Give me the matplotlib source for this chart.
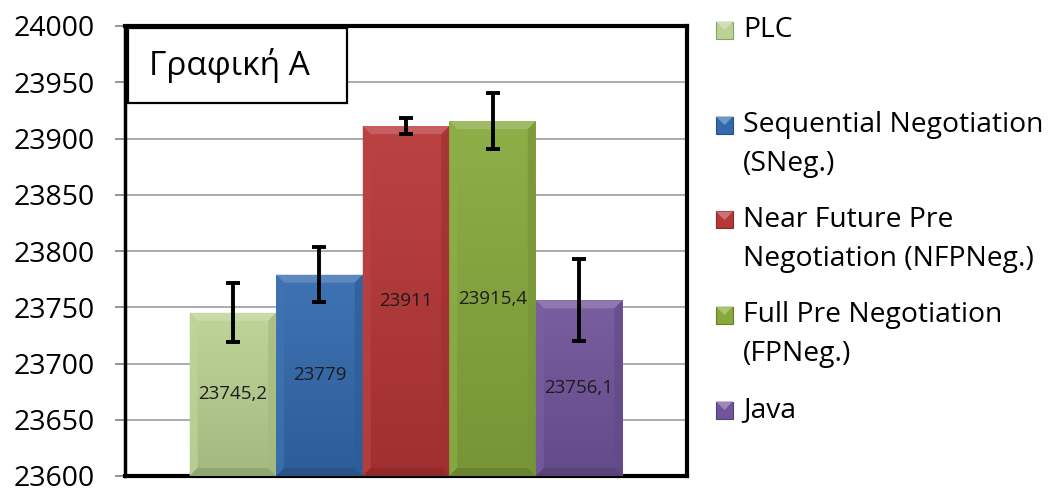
import numpy as np
import matplotlib
matplotlib.use("Agg")
import matplotlib.pyplot as plt
from matplotlib.patches import Rectangle, Polygon
from matplotlib.colors import to_rgb

# ---- data -------------------------------------------------------------
series = [
    "PLC",
    "Sequential Negotiation\n(SNeg.)",
    "Near Future Pre\nNegotiation (NFPNeg.)",
    "Full Pre Negotiation\n(FPNeg.)",
    "Java",
]
values = [23745.2, 23779.0, 23911.0, 23915.4, 23756.1]
errors = [26.0, 24.5, 7.0, 25.0, 36.5]
value_labels = ["23745,2", "23779", "23911", "23915,4", "23756,1"]
colors = ["#bad292", "#336aae", "#b73636", "#86a93c", "#71549a"]
y_ticks = [23600, 23650, 23700, 23750, 23800, 23850, 23900, 23950, 24000]
title_text = "Γραφική Α"

plt.rcParams["font.family"] = ["Open Sans", "DejaVu Sans"]

W, H = 1054, 492
fig = plt.figure(figsize=(W / 100, H / 100), dpi=100)
ax = fig.add_axes([125 / W, 16 / H, 562 / W, 450 / H])

base = y_ticks[0]
ax.set_ylim(y_ticks[0], y_ticks[-1])
ax.set_xlim(-0.5, 0.5)

n = len(values)
bar_w = 0.154
xs = [(i - (n - 1) / 2) * bar_w for i in range(n)]


def shade(c, f):
    r = np.array(to_rgb(c))
    if f >= 0:
        return tuple(r + (1 - r) * f)
    return tuple(r * (1 + f))


bars = ax.bar(xs, [v - base for v in values], width=bar_w, bottom=base,
              color=colors, edgecolor="none", zorder=3)

# bevelled look: vertical gradient plus lighter top / darker bottom facets
dx = 8 / 562
dy = 8 * 50 / 56
for rect, c in zip(bars, colors):
    x0, w = rect.get_x(), rect.get_width()
    y0, h = rect.get_y(), rect.get_height()
    x1, y1 = x0 + w, y0 + h
    top = np.array(shade(c, 0.06))
    bot = np.array(shade(c, -0.12))
    t = np.linspace(0, 1, 64)[:, None]
    grad = top * (1 - t) + bot * t
    img = np.repeat(grad[:, None, :], 8, axis=1)
    im = ax.imshow(img, extent=(x0, x1, y0, y1), aspect="auto",
                   origin="upper", zorder=3.1, interpolation="bilinear")
    im.set_clip_path(rect)
    facets = [
        ([(x0, y1), (x1, y1), (x1 - dx, y1 - dy), (x0 + dx, y1 - dy)], shade(c, 0.28)),
        ([(x0, y1), (x0 + dx, y1 - dy), (x0 + dx, y0 + dy), (x0, y0)], shade(c, 0.06)),
        ([(x1, y1), (x1 - dx, y1 - dy), (x1 - dx, y0 + dy), (x1, y0)], shade(c, -0.12)),
        ([(x0, y0), (x0 + dx, y0 + dy), (x1 - dx, y0 + dy), (x1, y0)], shade(c, -0.25)),
    ]
    for pts, fc in facets:
        ax.add_patch(Polygon(pts, closed=True, facecolor=fc, edgecolor="none",
                             alpha=0.7, zorder=3.2))

ax.errorbar(xs, values, yerr=errors, fmt="none", ecolor="black",
            elinewidth=2.8, capsize=5, capthick=2.8, zorder=5)

for x, v, lab in zip(xs, values, value_labels):
    ax.text(x, (base + v) / 2, lab, ha="center", va="center",
            fontsize=13.5, color="#1c1c1c", zorder=6)

# axes styling
ax.set_yticks(y_ticks)
ax.set_yticklabels([str(t) for t in y_ticks], fontsize=20.5)
ax.set_xticks([])
ax.tick_params(axis="y", direction="out", length=7, width=1.2,
               color="#808080", pad=15)
ax.yaxis.grid(True, color="#a6a6a6", linewidth=1.3, zorder=0)
ax.set_axisbelow(True)
for s in ax.spines.values():
    s.set_color("black")
    s.set_linewidth(3)
ax.spines["left"].set_linewidth(2.5)

# title box inside the plot area
ax.add_patch(Rectangle((0.005, 0.829), 0.39, 0.166, transform=ax.transAxes,
                       facecolor="white", edgecolor="black", linewidth=1.6,
                       zorder=4))
ax.text(0.043, 0.912, title_text, transform=ax.transAxes, ha="left",
        va="center", fontsize=24, color="black", zorder=4.5)

# legend on the right
entry_y = [30, 125, 220, 315, 410]
line_step = 39
for lab, c, yp in zip(series, colors, entry_y):
    size = 17
    fig.patches.append(Rectangle((716 / W, 1 - (yp + size / 2) / H),
                                 size / W, size / H, transform=fig.transFigure,
                                 facecolor=c, edgecolor=shade(c, -0.25),
                                 linewidth=0.8))
    fig.patches.append(Polygon([(716 / W, 1 - (yp - size / 2) / H),
                                ((716 + size) / W, 1 - (yp - size / 2) / H),
                                ((716 + size / 2) / W, 1 - yp / H)],
                               closed=True, transform=fig.transFigure,
                               facecolor=shade(c, 0.3), edgecolor="none"))
    for k, line in enumerate(lab.split("\n")):
        fig.text(743 / W, 1 - (yp + k * line_step) / H, line, ha="left",
                 va="center", fontsize=20.3, color="black")

fig.savefig("out.png", dpi=100)
